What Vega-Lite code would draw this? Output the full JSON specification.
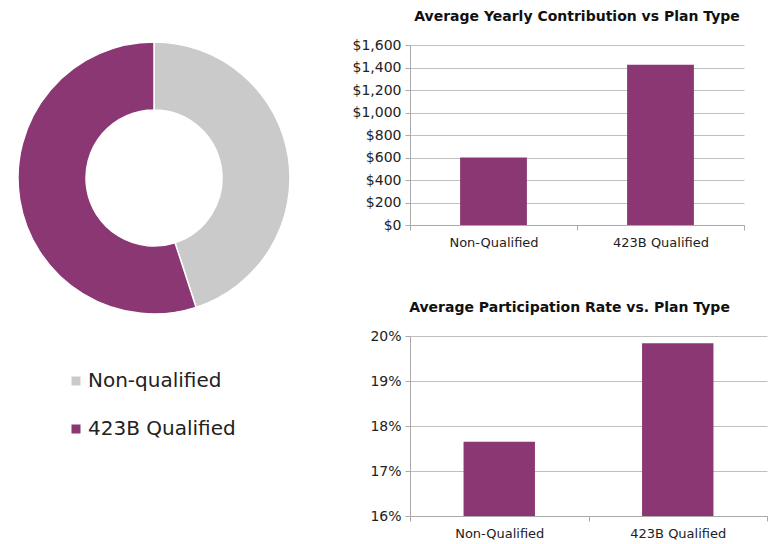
{
  "$schema": "https://vega.github.io/schema/vega-lite/v6.json",
  "padding": {"top": 10, "left": 0, "right": 0, "bottom": 0},
  "spacing": 44,
  "config": {"font": "DejaVu Sans", "view": {"stroke": null}},
  "hconcat": [
    {
      "width": 308,
      "height": 266,
      "data": {"values": [
        {"plan": "Non-qualified", "share": 45, "rank": 1},
        {"plan": "423B Qualified", "share": 55, "rank": 2}
      ]},
      "mark": {"type": "arc", "outerRadius": 136, "innerRadius": 68, "stroke": "white", "strokeWidth": 1.5},
      "encoding": {
        "theta": {"field": "share", "type": "quantitative", "stack": true},
        "order": {"field": "rank", "type": "quantitative"},
        "color": {
          "field": "plan",
          "type": "nominal",
          "scale": {"domain": ["Non-qualified", "423B Qualified"], "range": ["#CACACA", "#8A3773"]},
          "legend": {
            "orient": "none",
            "legendX": 66,
            "legendY": 326,
            "title": null,
            "symbolType": "square",
            "symbolSize": 81,
            "symbolStrokeWidth": 0,
            "labelFontSize": 20,
            "labelColor": "#222",
            "labelOffset": 2,
            "rowPadding": 28,
            "padding": 0
          }
        }
      }
    },
    {
      "spacing": 52,
      "vconcat": [
        {
          "width": 334,
          "height": 180,
          "title": {"text": "Average Yearly Contribution vs Plan Type", "fontSize": 14, "fontWeight": "bold", "color": "#111", "anchor": "middle", "frame": "group", "offset": 14},
          "data": {"values": [
            {"plan": "Non-Qualified", "amount": 600},
            {"plan": "423B Qualified", "amount": 1425}
          ]},
          "mark": {"type": "bar", "width": {"band": 0.4}, "color": "#8A3773"},
          "encoding": {
            "x": {
              "field": "plan", "type": "nominal", "sort": ["Non-Qualified", "423B Qualified"],
              "scale": {"paddingInner": 0, "paddingOuter": 0},
              "axis": {"title": null, "labelAngle": 0, "tickBand": "extent", "domainColor": "#aaa", "tickColor": "#aaa", "tickSize": 5, "labelFontSize": 13, "labelColor": "#222", "labelPadding": 6}
            },
            "y": {
              "field": "amount", "type": "quantitative",
              "scale": {"domain": [0, 1600]},
              "axis": {"title": null, "values": [0, 200, 400, 600, 800, 1000, 1200, 1400, 1600], "format": "$,.0f", "gridColor": "#c0c0c0", "domainColor": "#aaa", "tickColor": "#aaa", "tickSize": 5, "labelFontSize": 14, "labelColor": "#222", "labelPadding": 4}
            }
          }
        },
        {
          "width": 357,
          "height": 180,
          "title": {"text": "Average Participation Rate vs. Plan Type", "fontSize": 14, "fontWeight": "bold", "color": "#111", "anchor": "middle", "frame": "group", "offset": 14, "dx": -19},
          "data": {"values": [
            {"plan": "Non-Qualified", "rate": 0.1765},
            {"plan": "423B Qualified", "rate": 0.1984}
          ]},
          "mark": {"type": "bar", "width": {"band": 0.4}, "color": "#8A3773", "clip": true},
          "encoding": {
            "x": {
              "field": "plan", "type": "nominal", "sort": ["Non-Qualified", "423B Qualified"],
              "scale": {"paddingInner": 0, "paddingOuter": 0},
              "axis": {"title": null, "labelAngle": 0, "tickBand": "extent", "domainColor": "#aaa", "tickColor": "#aaa", "tickSize": 5, "labelFontSize": 13, "labelColor": "#222", "labelPadding": 6}
            },
            "y": {
              "field": "rate", "type": "quantitative",
              "scale": {"domain": [0.16, 0.2], "zero": false},
              "axis": {"title": null, "values": [0.16, 0.17, 0.18, 0.19, 0.2], "format": ".0%", "gridColor": "#c0c0c0", "domainColor": "#aaa", "tickColor": "#aaa", "tickSize": 5, "labelFontSize": 14, "labelColor": "#222", "labelPadding": 4}
            }
          }
        }
      ]
    }
  ]
}
